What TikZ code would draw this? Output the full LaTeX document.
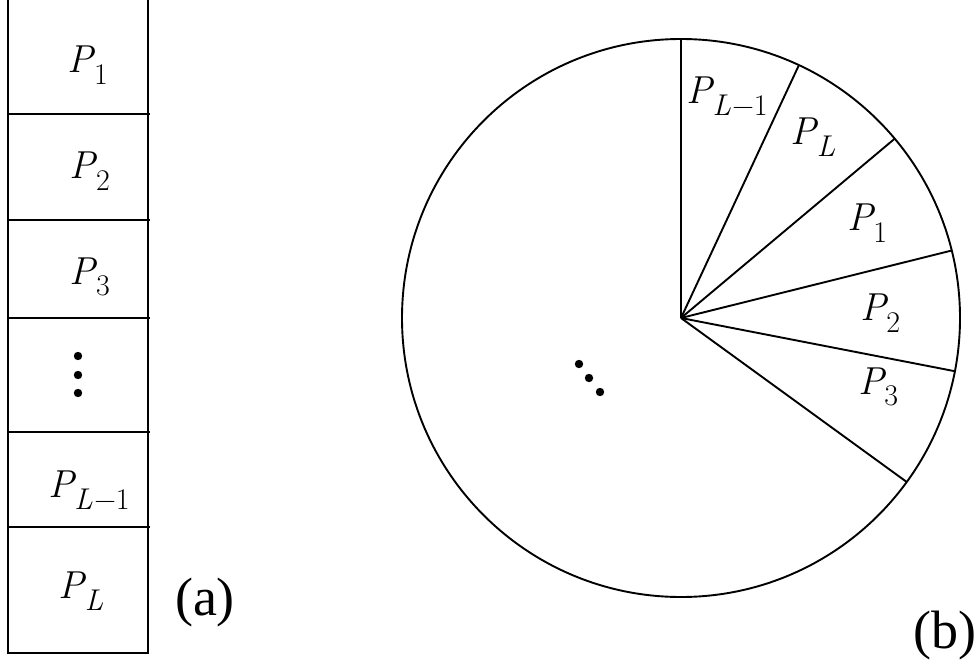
\documentclass[tikz,border=0pt]{standalone}
\usepackage{fontspec}
\IfFontExistsTF{LiberationSerif-Regular.ttf}
  {\newfontfamily\timesf{LiberationSerif-Regular.ttf}\def\capsize{54}}
  {\newfontfamily\timesf[FakeStretch=0.82]{DejaVu Serif}\def\capsize{50}}
\newcommand{\Pwith}[1]{{\itshape P}\kern0.01em\raisebox{-0.3em}{\fontsize{30}{32}\selectfont #1}}
\tikzset{
  lbl/.style={inner sep=0pt, anchor=center, font=\fontsize{39}{46}\selectfont},
  captext/.style={inner sep=0pt, anchor=center, font=\timesf\fontsize{\capsize}{60}\selectfont},
  ln/.style={line width=1.9pt, line cap=butt},
  dotf/.style={fill=black}
}
\begin{document}
\begin{tikzpicture}[x=1pt,y=-1pt]
\useasboundingbox (0,0) rectangle (979,661);
% (a) column
\draw[ln] (8,-2) -- (8,653) -- (148,653) -- (148,-2);
\foreach \yy in {114,220,318,432,527}{
  \draw[ln] (8,\yy) -- (150,\yy);
}
\node[lbl] (a1) at (88,65) {\Pwith{1}};
\node[lbl] (a2) at (90,171) {\Pwith{2}};
\node[lbl] (a3) at (90,277) {\Pwith{3}};
\fill[dotf] (78,356) circle (4.2);
\fill[dotf] (78,375) circle (4.2);
\fill[dotf] (78,393) circle (4.2);
\node[lbl] (aLm) at (89,490) {\Pwith{\itshape L\upshape\kern0.05em−1}};
\node[lbl] (aL) at (81,591) {\Pwith{\itshape L}};
\node[captext] (capa) at (205,603) {(a)};
% (b) pie
\node[draw, circle, ln, minimum size=558pt, inner sep=0pt, outer sep=0pt] (circ) at (681,318) {};
\foreach \ang in {90,65,40,14,-11,-36}{
  \draw[ln] (circ.center) -- (circ.\ang);
}
\node[lbl] (bLm) at (727,96) {\Pwith{\itshape L\upshape\kern0.05em−1}};
\node[lbl] (bL) at (813,137) {\Pwith{\itshape L}};
\node[lbl] (b1) at (867,223) {\Pwith{1}};
\node[lbl] (b2) at (880,313) {\Pwith{2}};
\node[lbl] (b3) at (878,387) {\Pwith{3}};
\fill[dotf] (579,364) circle (4.2);
\fill[dotf] (589,378) circle (4.2);
\fill[dotf] (600,392) circle (4.2);
\node[captext] (capb) at (945,636) {(b)};
\end{tikzpicture}
\end{document}
